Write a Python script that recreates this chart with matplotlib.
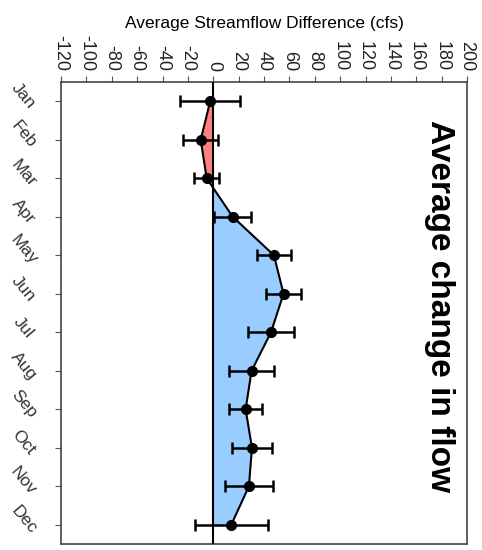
import matplotlib
matplotlib.use("Agg")
import matplotlib.pyplot as plt
from matplotlib.transforms import ScaledTranslation
import numpy as np

months = ["Jan", "Feb", "Mar", "Apr", "May", "Jun",
          "Jul", "Aug", "Sep", "Oct", "Nov", "Dec"]
mean_diff = [-2.4, -9.9, -5.2, 15.3, 47.8, 55.4, 45.5, 30.2, 25.5, 30.5, 28.1, 14.2]
err = [23.7, 14.0, 9.8, 14.5, 13.7, 13.5, 18.3, 18.0, 12.9, 15.5, 18.9, 28.9]
xticks = list(range(-120, 201, 20))

plt.rcParams['font.family'] = ['Liberation Sans', 'DejaVu Sans']

fig = plt.figure(figsize=(4.82, 5.5), dpi=100)
ax = fig.add_axes([0.1266, 0.0109, 0.8423, 0.84])

pos = np.arange(1, len(months) + 1)
vals = np.array(mean_diff)

ax.fill_betweenx(pos, 0, vals, where=vals < 0, interpolate=True,
                 color="#FF7F7F", linewidth=0)
ax.fill_betweenx(pos, 0, vals, where=vals >= 0, interpolate=True,
                 color="#99CCFF", linewidth=0)
ax.axvline(0, color="black", linewidth=1.5, zorder=3)
ax.plot(vals, pos, color="black", linewidth=1.5, zorder=4)
ax.errorbar(vals, pos, xerr=err, fmt="o", color="black", markersize=7,
            elinewidth=1.8, capsize=4, capthick=1.8, zorder=5)

ax.set_xlim(-120, 200)
ax.set_ylim(12.5, 0.5)
ax.xaxis.set_ticks_position("top")
ax.xaxis.set_label_position("top")
ax.set_xticks(xticks)
ax.set_xticklabels([str(t) for t in xticks], rotation=-90, fontsize=13,
                   color="#222222")
ax.set_xlabel("Average Streamflow Difference (cfs)", fontsize=12.5, labelpad=5)
ax.set_yticks(pos)
ax.set_yticklabels(months, rotation=-50, fontsize=12.5, color="#333333",
                   ha="center", va="center", rotation_mode="anchor")
ax.tick_params(axis="y", pad=23, length=4, color="#555555")
ax.tick_params(axis="x", length=4, pad=4, color="#555555")
# lift the month labels slightly above their ticks
lift = ScaledTranslation(0, 5 / 100, fig.dpi_scale_trans)
for lab in ax.get_yticklabels():
    lab.set_transform(lab.get_transform() + lift)
for s in ax.spines.values():
    s.set_color("#444444")
    s.set_linewidth(1.2)

ax.text(0.932, 0.515, "Average change in flow", transform=ax.transAxes,
        rotation=-90, fontsize=24, fontweight="bold", ha="center", va="center")

fig.savefig("out.png", dpi=100)
